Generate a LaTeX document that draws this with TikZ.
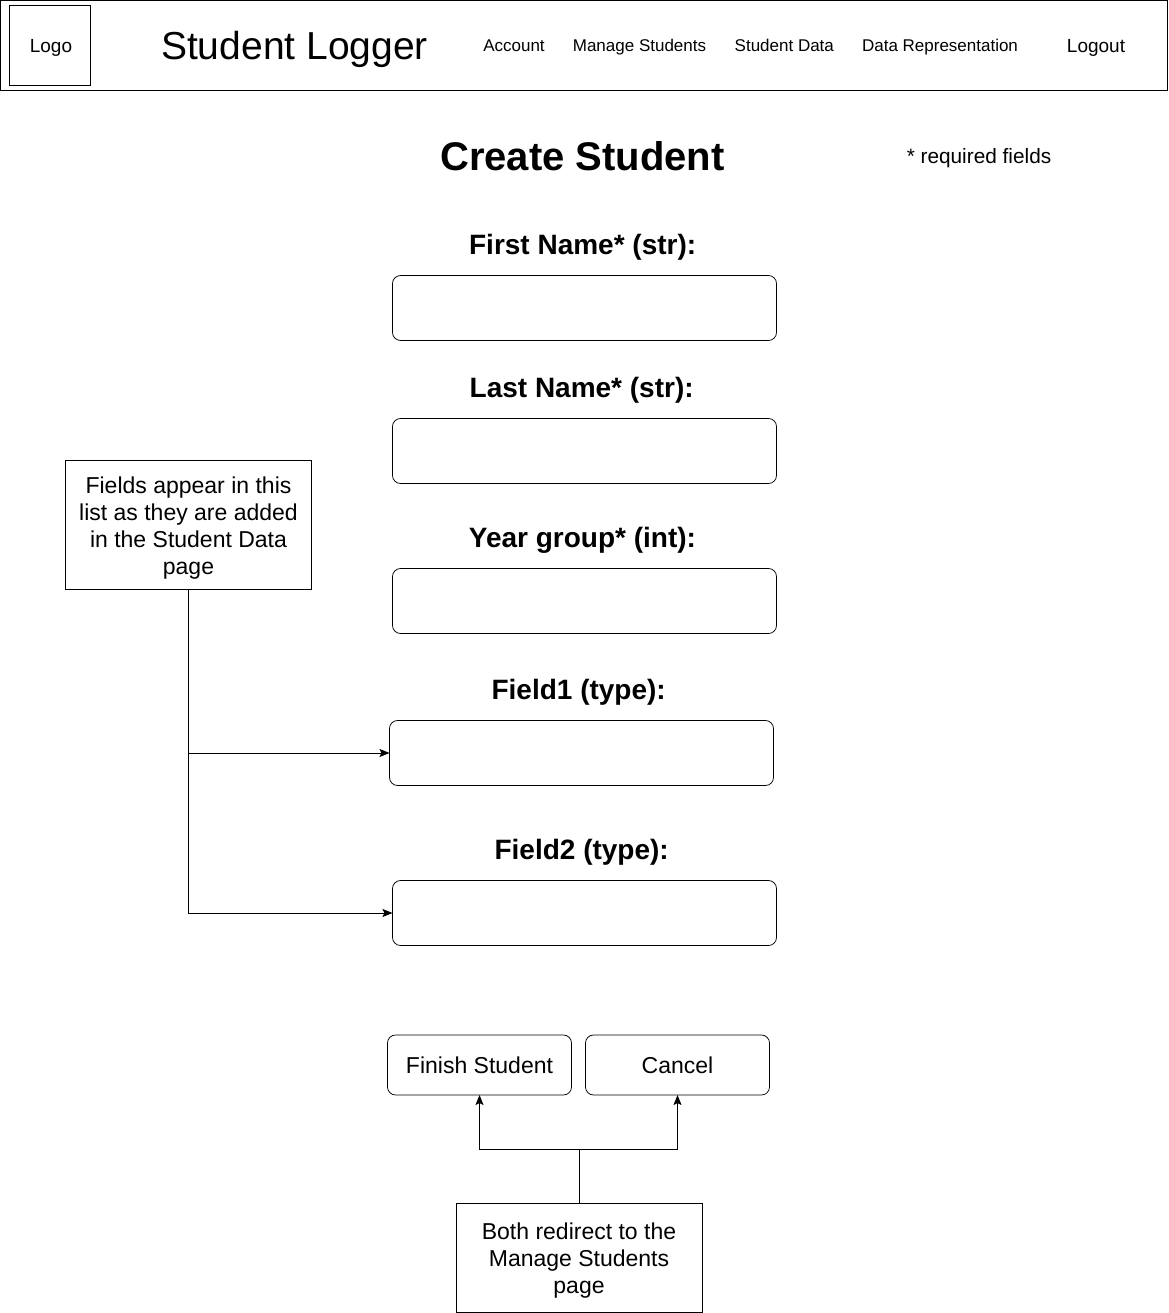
\documentclass[tikz,border=0pt]{standalone}
\usepackage{fontspec}
\setmainfont{Liberation Sans}
\usetikzlibrary{arrows.meta}
\begin{document}
\begin{tikzpicture}[x=1pt,y=-1pt,
  every node/.style={inner sep=0pt,outer sep=0pt},
  boxn/.style={draw=black,line width=0.75pt,anchor=north west},
  field/.style={boxn,rounded corners=8pt,minimum width=384pt,minimum height=65pt},
  btn/.style={boxn,rounded corners=8pt,minimum width=184pt,minimum height=60pt,font=\fontsize{23}{27}\selectfont},
  note/.style={boxn,align=center,font=\fontsize{23}{27}\selectfont},
  navt/.style={anchor=base,font=\fontsize{17}{21}\selectfont},
  lab/.style={anchor=base,font=\fontsize{28}{32}\selectfont\bfseries},
  conn/.style={line width=0.75pt,-{Stealth[length=10pt,width=8pt,inset=2pt]}}]
\useasboundingbox (0,0) rectangle (1168,1313);
\node[boxn,minimum width=1167pt,minimum height=90pt] (hdr) at (0.5,0.5) {};
\node[boxn,minimum width=80.5pt,minimum height=79.5pt] (logo) at (9.8,5.5) {};
\node[anchor=base,font=\fontsize{19}{23}\selectfont] (logot) at (51,52.5) {Logo};
\node[anchor=base,font=\fontsize{39}{44}\selectfont] (title) at (294.5,59.5) {Student Logger};
\node[navt] (n1) at (514,51.7) {Account};
\node[navt] (n2) at (639.5,51.7) {Manage Students};
\node[navt] (n3) at (784.3,51.7) {Student Data};
\node[navt] (n4) at (940,51.7) {Data Representation};
\node[anchor=base,font=\fontsize{19}{23}\selectfont] (n5) at (1096,52.3) {Logout};
\node[anchor=base,font=\fontsize{40}{44}\selectfont\bfseries] (cs) at (582.5,170.7) {Create Student};
\node[anchor=base,font=\fontsize{20.8}{24}\selectfont] (req) at (979,163.7) {* required fields};
\node[lab] (l1) at (582.7,254.4) {First Name* (str):};
\node[field] (f1) at (392.5,275.5) {};
\node[lab] (l2) at (581.7,397) {Last Name* (str):};
\node[field] (f2) at (392.5,418.5) {};
\node[lab] (l3) at (582.5,547) {Year group* (int):};
\node[field] (f3) at (392.5,568.5) {};
\node[lab] (l4) at (578.7,699.4) {Field1 (type):};
\node[field] (f4) at (389.5,720.5) {};
\node[lab] (l5) at (581.7,859) {Field2 (type):};
\node[field] (f5) at (392.5,880.5) {};
\node[btn] (b1) at (387.5,1035) {Finish Student};
\node[btn] (b2) at (585.5,1035) {Cancel};
\node[boxn,minimum width=246pt,minimum height=129pt] (nf) at (65.5,460.5) {};
\node[note,draw=none,minimum width=246pt,minimum height=129pt] (nft) at (65.5,463.5) {Fields appear in this\\list as they are added\\in the Student Data\\page};
\node[boxn,minimum width=246pt,minimum height=109pt] (nb) at (456,1203.5) {};
\node[note,draw=none,minimum width=246pt,minimum height=109pt] (nbt) at (456,1206.5) {Both redirect to the\\Manage Students\\page};
\coordinate (j) at (579,1149.5);
\draw[conn] (nf.south) |- (f4.west);
\draw[conn] (nf.south) |- (f5.west);
\draw[conn] (nb.north) -- (j) -| (b1.south);
\draw[conn] (nb.north) -- (j) -| (b2.south);
\end{tikzpicture}
\end{document}
